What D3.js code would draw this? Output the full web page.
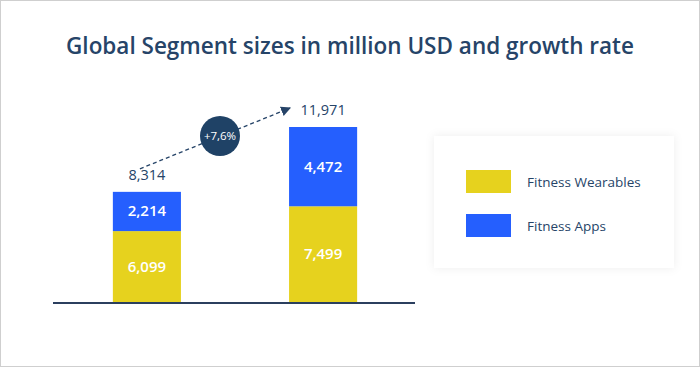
<!DOCTYPE html>
<html>
<head>
<meta charset="utf-8">
<script src="https://cdn.jsdelivr.net/npm/d3@7"></script>
<style>
  html, body { margin: 0; padding: 0; background: #fff; }
  svg { display: block; }
  text { font-family: 'Open Sans', 'Lato', sans-serif; }
</style>
</head>
<body>
<svg id="chart"></svg>
<script>
// Data
const years = ['before', 'after'];
const wearables = [6099, 7499];
const apps = [2214, 4472];
const totals = [8314, 11971];
const growthLabel = '+7,6%';
const seriesNames = ['Fitness Wearables', 'Fitness Apps'];
const seriesColors = ['#e6d21e', '#255ffe'];

const W = 700, H = 367;
const navy = '#264468';
const yFloor = 2100; // the original cuts the value axis above zero

const svg = d3.select('#chart')
  .attr('width', W)
  .attr('height', H);

const defs = svg.append('defs');
const shadow = defs.append('filter').attr('id', 'card-shadow')
  .attr('x', '-20%').attr('y', '-20%').attr('width', '140%').attr('height', '140%');
shadow.append('feDropShadow')
  .attr('dx', 0).attr('dy', 0).attr('stdDeviation', 5)
  .attr('flood-color', '#000').attr('flood-opacity', 0.07);

const marker = defs.append('marker')
  .attr('id', 'arrow-head')
  .attr('viewBox', '0 0 10 10')
  .attr('refX', 9).attr('refY', 5)
  .attr('markerWidth', 10).attr('markerHeight', 10)
  .attr('markerUnits', 'userSpaceOnUse')
  .attr('orient', 'auto');
marker.append('path').attr('d', 'M0,0 L10,5 L0,10 Z').style('fill', navy);

// Outer frame
svg.append('rect').attr('class', 'frame')
  .attr('x', 0.5).attr('y', 0.5)
  .attr('width', W - 1).attr('height', H - 1)
  .style('fill', '#fff')
  .style('stroke', '#cfcfcf');

// Title
svg.append('text').attr('class', 'title')
  .attr('x', 350).attr('y', 54)
  .attr('text-anchor', 'middle')
  .style('font-size', '22.5px')
  .style('font-weight', 600)
  .style('fill', navy)
  .text('Global Segment sizes in million USD and growth rate');

// Scales
const x = d3.scaleBand()
  .domain(years)
  .range([60, 410])
  .paddingInner(0.6136)
  .paddingOuter(0.3);

const y = d3.scaleLinear()
  .domain([yFloor, 11971])
  .range([302, 127]);

const stackData = years.map((k, i) => ({ key: k, wearables: wearables[i], apps: apps[i] }));
const layers = d3.stack().keys(['wearables', 'apps'])(stackData);

const g = svg.append('g').attr('class', 'chart-group');

// Bars
const layer = g.selectAll('.layer')
  .data(layers)
  .join('g')
  .attr('class', 'layer')
  .style('fill', (d, i) => seriesColors[i]);

layer.selectAll('rect')
  .data(d => d)
  .join('rect')
  .attr('x', d => x(d.data.key))
  .attr('y', d => y(d[1]))
  .attr('width', x.bandwidth())
  .attr('height', d => y(Math.max(d[0], yFloor)) - y(d[1]));

// Segment labels
layer.selectAll('text')
  .data(d => d.map(s => ({ s, key: d.key })))
  .join('text')
  .attr('x', d => x(d.s.data.key) + x.bandwidth() / 2)
  .attr('y', d => (y(Math.max(d.s[0], yFloor)) + y(d.s[1])) / 2 + 5)
  .attr('text-anchor', 'middle')
  .style('font-size', '15px')
  .style('font-weight', 600)
  .style('fill', '#fff')
  .text(d => d3.format(',')(d.s.data[d.key]));

// Baseline
g.append('line').attr('class', 'baseline')
  .attr('x1', 53).attr('x2', 415)
  .attr('y1', y(yFloor) + 1).attr('y2', y(yFloor) + 1)
  .style('stroke', '#2b3f5e')
  .style('stroke-width', 2);

// Totals
g.selectAll('.total')
  .data(totals)
  .join('text')
  .attr('class', 'total')
  .attr('x', (d, i) => x(years[i]) + x.bandwidth() / 2)
  .attr('y', d => y(d) - 12)
  .attr('text-anchor', 'middle')
  .style('font-size', '14.5px')
  .style('fill', navy)
  .text(d => d3.format(',')(d));

// Growth arrow
const x0 = x(years[0]) + x.bandwidth() / 2;
const x1 = x(years[1]) + x.bandwidth() / 2;
g.append('line').attr('class', 'growth-arrow')
  .attr('x1', x0 - 7).attr('y1', y(totals[0]) - 23)
  .attr('x2', x1 - 33).attr('y2', y(totals[1]) - 19)
  .attr('marker-end', 'url(#arrow-head)')
  .style('stroke', navy)
  .style('stroke-width', 1.3)
  .style('stroke-dasharray', '4,3');

const cx = 220, cy = 136;
g.append('circle').attr('class', 'growth-badge')
  .attr('cx', cx).attr('cy', cy).attr('r', 20)
  .style('fill', '#1f4266');
g.append('text')
  .attr('x', cx).attr('y', cy + 4)
  .attr('text-anchor', 'middle')
  .style('font-size', '11.5px')
  .style('fill', '#fff')
  .text(growthLabel);

// Legend card
const legend = svg.append('g').attr('class', 'legend')
  .attr('transform', 'translate(434,136)');
legend.append('rect')
  .attr('width', 240).attr('height', 132)
  .style('fill', '#fff')
  .attr('filter', 'url(#card-shadow)');

const item = legend.selectAll('.item')
  .data(seriesNames)
  .join('g')
  .attr('class', 'item')
  .attr('transform', (d, i) => `translate(32,${34 + i * 44})`);
item.append('rect')
  .attr('width', 45).attr('height', 23)
  .style('fill', (d, i) => seriesColors[i]);
item.append('text')
  .attr('x', 61).attr('y', 16.5)
  .style('font-size', '13.5px')
  .style('fill', navy)
  .text(d => d);
</script>
</body>
</html>
